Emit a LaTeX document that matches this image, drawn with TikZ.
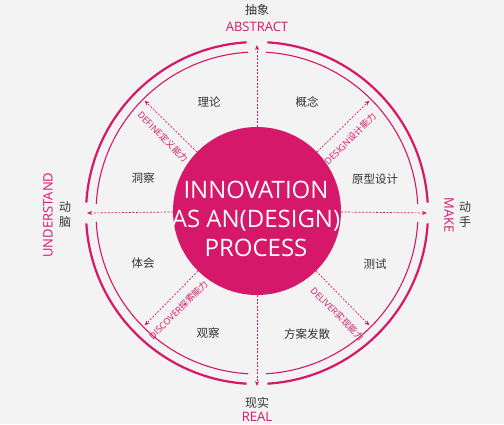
\documentclass[tikz,border=0pt]{standalone}
\usepackage{fontspec}
\setmainfont{Open Sans}
\newfontfamily\cjk{Noto Sans CJK SC}
\usetikzlibrary{arrows.meta}
\definecolor{pk}{HTML}{D6186A}
\definecolor{bg}{HTML}{F3F3F3}
\definecolor{tg}{HTML}{333333}
\begin{document}
\begin{tikzpicture}[x=1pt,y=1pt,
  dasharrow/.style={draw=pk, line width=0.7pt, dash pattern=on 2pt off 1.5pt, -{Stealth[length=5pt,width=4pt]}},
  seg/.style={font=\cjk\fontsize{11.5}{12}\selectfont, text=tg, inner sep=0},
  diaglab/.style={font=\fontsize{9}{9}\selectfont, text=pk, inner sep=0},
  outlab/.style={font=\fontsize{13}{14}\selectfont, text=pk, inner sep=0},
  outcjk/.style={font=\cjk\fontsize{12}{15}\selectfont, text=tg, inner sep=0, align=center},
  thickarc/.style={draw=pk, line width=2.2pt},
  thinarc/.style={draw=pk, line width=1.1pt}
]
\fill[bg] (0,0) rectangle (504,424);
\useasboundingbox (0,0) rectangle (504,424);
\coordinate (O) at (257,211);
\foreach \a in {0,90,180,270} {
  \draw[thickarc] ([shift={(\a+3.5:171)}]O) arc[start angle=\a+3.5, end angle=\a+86.5, radius=171];
  \draw[thinarc] ([shift={(\a+3.2:161)}]O) arc[start angle=\a+3.2, end angle=\a+86.8, radius=161];
}
\node[circle, fill=pk, minimum size=168pt, inner sep=0] (c) at (257,213) {};
\node[text=white, align=center, font=\fontsize{24}{29}\selectfont, inner sep=0] (t) at (256,205) {INNOVATION\\AS AN(DESIGN)\\PROCESS};
% cardinal arrows
\coordinate (ta) at (257,379);
\coordinate (ba) at (257,38);
\coordinate (la) at (87,211);
\coordinate (ra) at (427,211);
\draw[dasharrow] (c) -- (ta);
\draw[dasharrow] (c) -- (ba);
\draw[dasharrow] (c) -- (la);
\draw[dasharrow] (c) -- (ra);
% diagonal arrows
\coordinate (d1) at ([shift={(135:159)}]O);
\coordinate (d2) at ([shift={(45:159)}]O);
\coordinate (d3) at ([shift={(225:159)}]O);
\coordinate (d4) at ([shift={(315:159)}]O);
\draw[dasharrow] (c) -- (d1);
\draw[dasharrow] (c) -- (d2);
\draw[dasharrow] (c) -- (d3);
\draw[dasharrow] (c) -- (d4);
\node[diaglab, rotate=-45] (l1) at ([shift={(141:121)}]O) {DEFINE{\cjk 定义能力}};
\node[diaglab, rotate=45] (l2) at ([shift={(38.5:119)}]O) {DESIGN{\cjk 设计能力}};
\node[diaglab, rotate=45] (l3) at ([shift={(231:125)}]O) {DISCOVER{\cjk 探索能力}};
\node[diaglab, rotate=-45] (l4) at ([shift={(308.5:129)}]O) {DELIVER{\cjk 实现能力}};
% segment labels
\node[seg] (s1) at (209,322) {理论};
\node[seg] (s2) at (307,322) {概念};
\node[seg] (s3) at (143,246) {洞察};
\node[seg] (s4) at (375,245) {原型设计};
\node[seg] (s5) at (143,161) {体会};
\node[seg] (s6) at (375,160) {测试};
\node[seg] (s7) at (208,91) {观察};
\node[seg] (s8) at (307,90) {方案发散};
% outer labels
\node[outcjk] (o1) at (257,414) {抽象};
\node[outlab] (o2) at (257,397) {ABSTRACT};
\node[outcjk] (o3) at (257,21) {现实};
\node[outlab] (o4) at (257,7) {REAL};
\node[outlab, rotate=90] (o5) at (48,209) {UNDERSTAND};
\node[outcjk] (o6) at (65,209.5) {动\\脑};
\node[outlab, rotate=-90] (o7) at (449,209) {MAKE};
\node[outcjk] (o8) at (465,209.5) {动\\手};
\end{tikzpicture}
\end{document}
